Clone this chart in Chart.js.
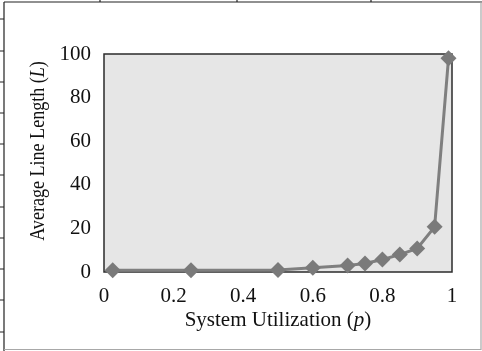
<!DOCTYPE html>
<html>
<head>
<meta charset="utf-8">
<script src="https://cdn.jsdelivr.net/npm/chart.js@4"></script>
<style>
  html, body { margin: 0; padding: 0; background: #fff; }
  canvas { display: block; }
</style>
</head>
<body>
<canvas id="myChart" width="482" height="351"></canvas>
<script>
// values
const utilization = [0.025, 0.25, 0.5, 0.6, 0.7, 0.75, 0.8, 0.85, 0.9, 0.95, 0.99];
const lineLength = [0.8, 0.8, 0.9, 1.9, 3.0, 3.9, 5.7, 8.0, 10.8, 20.7, 98];
const xTicks = [0, 0.2, 0.4, 0.6, 0.8, 1];
const yTicks = [0, 20, 40, 60, 80, 100];

const serif = "'Liberation Serif', 'DejaVu Serif', serif";

// plot box fill + border, drawn under the line
const plotBox = {
    id: "plotBox",
    beforeDatasetsDraw(chart) {
        const a = chart.chartArea;
        const c = chart.ctx;
        c.save();
        c.fillStyle = "#e6e6e6";
        c.fillRect(a.left, a.top, a.right - a.left, a.bottom - a.top);
        c.strokeStyle = "#2b2b2b";
        c.lineWidth = 1.5;
        c.strokeRect(a.left, a.top, a.right - a.left, a.bottom - a.top);
        c.restore();
    },
};

// draws text pieces, some italic, centred on x
function mixedText(c, parts, x, y, size) {
    let total = 0;
    parts.forEach(p => {
        c.font = (p[1] ? "italic " : "") + size + "px " + serif;
        total += c.measureText(p[0]).width;
    });
    let pos = x - total / 2;
    parts.forEach(p => {
        c.font = (p[1] ? "italic " : "") + size + "px " + serif;
        c.fillText(p[0], pos, y);
        pos += c.measureText(p[0]).width;
    });
}

// axis titles and the outer frame
const decor = {
    id: "decor",
    afterDraw(chart) {
        const a = chart.chartArea;
        const c = chart.ctx;
        c.save();
        c.fillStyle = "#111";
        c.textBaseline = "alphabetic";
        mixedText(c, [["System Utilization (", false], ["p", true], [")", false]], (a.left + a.right) / 2, 326, 21);

        // y title is a bit condensed in the original
        c.save();
        c.translate(44, 151);
        c.rotate(-Math.PI / 2);
        c.scale(0.86, 1);
        mixedText(c, [["Average Line Length (", false], ["L", true], [")", false]], 0, 0, 21);
        c.restore();

        // frame
        c.lineWidth = 1.2;
        c.strokeStyle = "#222";
        c.beginPath();
        c.moveTo(4, 2); c.lineTo(482, 2);
        c.moveTo(4, 2); c.lineTo(4, 351);
        [100, 237, 371].forEach(x => { c.moveTo(x, 0); c.lineTo(x, 2); });
        [19, 51, 82, 113, 144, 175, 207, 238, 269, 300, 332].forEach(y => { c.moveTo(0, y); c.lineTo(4, y); });
        c.stroke();
        c.strokeStyle = "#a8a8a8";
        c.beginPath();
        c.moveTo(481, 2); c.lineTo(481, 350);
        c.moveTo(4, 349.5); c.lineTo(481, 349.5);
        c.stroke();
        c.restore();
    },
};

const ctx = document.getElementById("myChart");
const myChart = new Chart(ctx, {
    type: "line",
    data: {
        datasets: [{
            data: utilization.map((p, i) => ({ x: p, y: lineLength[i] })),
            borderColor: "#7f7f7f",
            backgroundColor: "#7a7a7a",
            borderWidth: 3,
            pointStyle: "rectRot",
            pointRadius: 8,
            pointBorderWidth: 0,
            tension: 0,
            clip: false,
        }],
    },
    options: {
        responsive: false,
        animation: false,
        layout: { padding: { top: 54, right: 30, left: 0, bottom: 0 } },
        plugins: { legend: { display: false }, tooltip: { enabled: false } },
        scales: {
            x: {
                type: "linear",
                min: 0,
                max: 1,
                afterBuildTicks: s => { s.ticks = xTicks.map(v => ({ value: v })); },
                afterFit: s => { s.height = 79; },
                grid: { display: false, drawTicks: false },
                border: { display: false },
                ticks: {
                    padding: 12,
                    color: "#111",
                    font: { family: serif, size: 21 },
                    maxRotation: 0,
                    callback: v => String(v),
                },
            },
            y: {
                min: 0,
                max: 100,
                afterBuildTicks: s => { s.ticks = yTicks.map(v => ({ value: v })); },
                afterFit: s => { s.width = 104; },
                grid: { display: false, drawTicks: false },
                border: { display: false },
                ticks: { padding: 13, color: "#111", font: { family: serif, size: 21 } },
            },
        },
    },
    plugins: [plotBox, decor],
});
</script>
</body>
</html>
